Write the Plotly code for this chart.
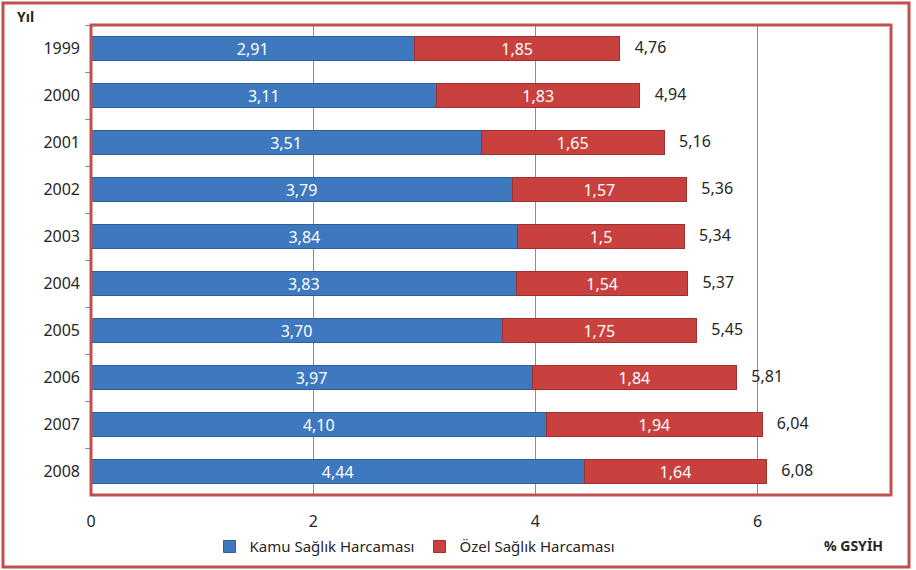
import plotly.graph_objects as go

years = ["1999", "2000", "2001", "2002", "2003", "2004", "2005", "2006", "2007", "2008"]
kamu = [2.91, 3.11, 3.51, 3.79, 3.84, 3.83, 3.70, 3.97, 4.10, 4.44]
ozel = [1.85, 1.83, 1.65, 1.57, 1.50, 1.54, 1.75, 1.84, 1.94, 1.64]
kamu_lbl = ["2,91", "3,11", "3,51", "3,79", "3,84", "3,83", "3,70", "3,97", "4,10", "4,44"]
ozel_lbl = ["1,85", "1,83", "1,65", "1,57", "1,5", "1,54", "1,75", "1,84", "1,94", "1,64"]
total = [4.76, 4.94, 5.16, 5.36, 5.34, 5.37, 5.45, 5.81, 6.04, 6.08]
total_lbl = ["4,76", "4,94", "5,16", "5,36", "5,34", "5,37", "5,45", "5,81", "6,04", "6,08"]

FONT = "Noto Sans"
fig = go.Figure()
fig.add_trace(go.Bar(
    y=years, x=kamu, orientation="h", name="Kamu Sağlık Harcaması",
    marker=dict(color="#3E78BE", line=dict(color="#2F5F98", width=1)),
    width=0.5, text=kamu_lbl, textposition="inside", insidetextanchor="middle",
    textfont=dict(color="white", size=16, family=FONT), textangle=0,
))
fig.add_trace(go.Bar(
    y=years, x=ozel, orientation="h", name="Özel Sağlık Harcaması",
    marker=dict(color="#C8413E", line=dict(color="#9E302E", width=1)),
    width=0.5, text=ozel_lbl, textposition="inside", insidetextanchor="middle",
    textfont=dict(color="white", size=16, family=FONT), textangle=0,
))
fig.add_trace(go.Scatter(
    y=years, x=total, mode="markers+text", text=total_lbl, textposition="middle right",
    marker=dict(size=22, color="rgba(0,0,0,0)"),
    textfont=dict(color="#262626", size=16, family=FONT), showlegend=False,
    hoverinfo="skip", cliponaxis=False,
))

annotations = [
    dict(text="<b>Yıl</b>", xref="paper", yref="paper", x=-76/800, y=(495-17)/470,
         xanchor="left", yanchor="middle", showarrow=False, font=dict(size=14)),
    dict(text="<b>% GSYİH</b>", xref="paper", yref="paper", x=(885-91)/800,
         y=-(545-495)/470, xanchor="right", yanchor="middle", showarrow=False,
         font=dict(size=14)),
]

fig.update_layout(
    width=916, height=570, barmode="stack",
    margin=dict(l=91, r=25, t=25, b=75, autoexpand=False),
    paper_bgcolor="white", plot_bgcolor="white",
    font=dict(family=FONT, size=16, color="#262626"),
    uniformtext=dict(minsize=16, mode="show"),
    xaxis=dict(range=[0, 7.2], tickvals=[0, 2, 4, 6], ticktext=["0", "2", "4", "6"],
               showgrid=True, gridcolor="#8C8C8C", gridwidth=1, zeroline=False,
               ticks="outside", ticklen=12, tickcolor="rgba(0,0,0,0)",
               showline=False, tickfont=dict(size=16), automargin=False),
    yaxis=dict(type="category", range=[len(years) - 0.5, -0.5], ticks="outside",
               tickson="boundaries", ticklen=5, tickcolor="#8C8C8C", showline=False,
               showgrid=False, tickfont=dict(size=16), automargin=False,
               ticklabelstandoff=10),
    legend=dict(orientation="h", x=0.405, xanchor="center", y=-0.075, yanchor="top",
                font=dict(size=15), traceorder="normal", itemwidth=30),
    showlegend=True,
    shapes=[
        dict(type="rect", xref="paper", yref="paper", x0=0, x1=1, y0=0, y1=1,
             line=dict(color="#C0504D", width=3)),
        dict(type="rect", xref="paper", yref="paper",
             x0=-88/800, x1=(909-91)/800, y0=-(567-495)/470, y1=(495-3)/470,
             line=dict(color="#C0504D", width=3)),
    ],
    annotations=annotations,
)
fig.write_html("out.html", config={"displayModeBar": False},
               post_script="document.body.style.margin='0';")
